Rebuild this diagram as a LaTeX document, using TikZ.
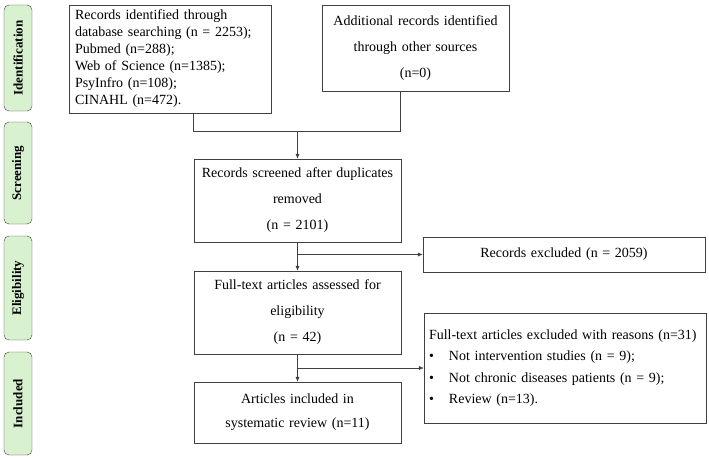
\documentclass[tikz,border=0pt]{standalone}
\usepackage{fontspec}
\setmainfont{Liberation Serif}
\usetikzlibrary{shapes,arrows.meta}
\usepackage{color}
\definecolor{stagegreen}{RGB}{216,241,207}
\definecolor{linegray}{RGB}{64,64,64}

\begin{document}
\begin{tikzpicture}[x=1pt,y=-1pt,
  box/.style={draw=linegray,rectangle,inner xsep=6pt,inner ysep=2pt,align=center},
  stage/.style={draw=linegray,rounded corners=5pt,fill=stagegreen,rotate=90,minimum height=28pt,
    inner sep=0pt,font=\bfseries\fontsize{13}{15}\selectfont},
  flow/.style={draw=linegray,-{Latex[length=5pt,width=4pt]}},
  link/.style={draw=linegray}]

  \useasboundingbox (0,0) rectangle (709,458);

  % stages
  \node[stage,minimum width=106pt] at (18,58) (s-ident) {Identification};
  \node[stage,minimum width=102pt] at (18,173) (s-screen) {Screening};
  \node[stage,minimum width=104pt] at (18,288) (s-elig) {Eligibility};
  \node[stage,minimum width=103pt] at (18,403.5) (s-incl) {Included};

  % flow boxes
  \node[box,minimum width=202pt,minimum height=108pt,text width=190pt,align=left,
    font=\fontsize{14}{17}\selectfont] at (170,59) (rec-db)
    {Records identified through\\database searching (n = 2253);\\Pubmed (n=288);\\Web of Science (n=1385);\\PsyInfro (n=108);\\CINAHL (n=472).};
  \node[box,minimum width=187pt,minimum height=86pt,text width=175pt,
    font=\fontsize{14}{26}\selectfont] at (415.5,48) (rec-other)
    {Additional records identified\\through other sources\\(n=0)};

  \node[box,minimum width=207pt,minimum height=83pt,text width=195pt,
    font=\fontsize{14}{26}\selectfont] at (297.5,200.5) (screened)
    {Records screened after duplicates\\removed\\(n = 2101)};
  \node[box,minimum width=282pt,minimum height=35pt,text width=270pt,
    font=\fontsize{14}{17}\selectfont] at (564,254.5) (excluded)
    {Records excluded (n = 2059)};

  \node[box,minimum width=207pt,minimum height=83pt,text width=195pt,
    font=\fontsize{14}{26}\selectfont] at (297.5,312.5) (fulltext)
    {Full-text articles assessed for\\eligibility\\(n = 42)};
  \node[box,minimum width=282pt,minimum height=110pt,text width=272pt,align=left,inner xsep=5pt,
    font=\fontsize{14}{21.5}\selectfont] at (565,368) (reasons)
    {Full-text articles excluded with reasons (n=31)\\
     \makebox[20pt][l]{\textbullet}Not intervention studies (n = 9);\\
     \makebox[20pt][l]{\textbullet}Not chronic diseases patients (n = 9);\\
     \makebox[20pt][l]{\textbullet}Review (n=13).};

  \node[box,minimum width=207pt,minimum height=61pt,text width=195pt,
    font=\fontsize{14}{24}\selectfont] at (297.5,412.5) (included)
    {Articles included in\\systematic review (n=11)};

  % connectors
  \coordinate (join) at (297.5,131);
  \draw[link] ([xshift=23pt]rec-db.south) |- (join);
  \draw[link] ([xshift=-15.5pt]rec-other.south) |- (join);
  \draw[flow] (join) -- (screened.north);

  \draw[flow] (screened) -- (fulltext);
  \draw[flow] (screened.south |- excluded.west) -- (excluded.west);

  \draw[flow] (fulltext) -- (included);
  \draw[flow] (fulltext.south |- reasons.west) -- (reasons.west);

\end{tikzpicture}
\end{document}
